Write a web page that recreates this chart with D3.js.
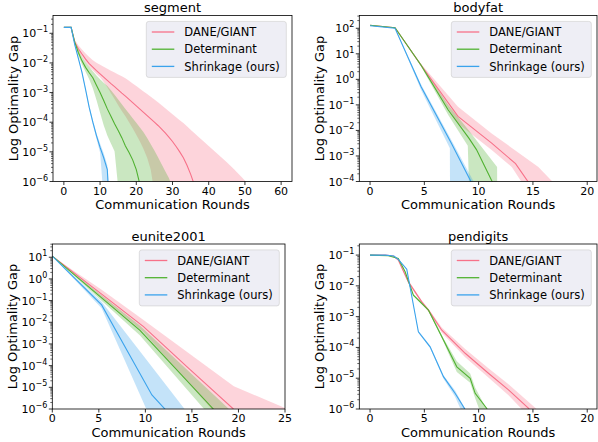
<!DOCTYPE html>
<html lang="en">
<head>
<meta charset="utf-8">
<title>Log Optimality Gap</title>
<script src="https://d3js.org/d3.v7.min.js"></script>
<style>
  body { margin: 0; background: #fff; }
  svg text { font-family: "DejaVu Sans", sans-serif; fill: #000; }
</style>
</head>
<body>
<svg width="598" height="442"></svg>
<script>

// rows are [communication round, log10 of the optimality gap]
const seriesNames = ["DANE/GIANT", "Determinant", "Shrinkage (ours)"];
const seriesColors = ["#f77189", "#50b131", "#3ba3ec"];

// segment
const segDane = [[0,-0.8],[1,-0.8],[2,-0.8],[3,-1.3],[4,-1.52],[5,-1.7],[6,-1.87],[7,-2.02],[8,-2.14],[9,-2.26],[10,-2.37],[11,-2.48],[12,-2.59],[13,-2.7],[14,-2.8],[15,-2.91],[16,-3.02],[17,-3.12],[18,-3.23],[19,-3.34],[20,-3.45],[21,-3.56],[22,-3.67],[23,-3.78],[24,-3.89],[25,-4.0],[26,-4.11],[27,-4.23],[28,-4.36],[29,-4.5],[30,-4.65],[31,-4.82],[32,-5.0],[33,-5.2],[34,-5.45],[35,-5.75],[36,-6.1]];
const segDaneLo = [[0,-0.8],[2,-0.8],[3,-1.32],[4,-1.6],[5,-1.8],[6,-1.98],[7,-2.13],[8,-2.25],[9,-2.37],[10,-2.48],[11,-2.64],[12,-2.82],[13,-3.02],[14,-3.22],[15,-3.43],[16,-3.62],[17,-3.8],[18,-4.0],[19,-4.2],[20,-4.42],[21,-4.65],[22,-4.9],[23,-5.2],[24,-5.6],[25,-6.4]];
const segDaneHi = [[0,-0.8],[2,-0.8],[3,-1.22],[4,-1.4],[5,-1.55],[6,-1.68],[7,-1.8],[8,-1.91],[9,-1.99],[10,-2.06],[11,-2.13],[12,-2.2],[13,-2.26],[14,-2.32],[15,-2.39],[16,-2.45],[17,-2.52],[18,-2.6],[19,-2.69],[20,-2.78],[21,-2.87],[22,-2.96],[23,-3.05],[24,-3.14],[25,-3.23],[26,-3.33],[27,-3.43],[28,-3.53],[29,-3.63],[30,-3.73],[31,-3.83],[32,-3.93],[33,-4.03],[34,-4.14],[35,-4.25],[36,-4.36],[37,-4.47],[38,-4.58],[39,-4.69],[40,-4.8],[41,-4.91],[42,-5.02],[43,-5.13],[44,-5.24],[45,-5.35],[46,-5.47],[47,-5.59],[48,-5.71],[49,-5.84],[50,-5.97],[51,-6.3]];
const segDet = [[0,-0.8],[1,-0.8],[2,-0.8],[3,-1.3],[4,-1.65],[5,-1.93],[6,-2.15],[7,-2.33],[8,-2.5],[9,-2.75],[10,-3.0],[11,-3.27],[12,-3.55],[13,-3.8],[14,-4.05],[15,-4.28],[16,-4.52],[17,-4.8],[18,-5.02],[19,-5.27],[20,-5.6],[21,-6.1]];
const segDetLo = [[0,-0.8],[2,-0.8],[3,-1.35],[4,-1.75],[5,-2.05],[6,-2.3],[7,-2.55],[8,-2.85],[9,-3.25],[10,-3.68],[11,-4.1],[12,-4.45],[13,-4.72],[14,-4.98],[15,-6.2]];
const segDetHi = [[0,-0.8],[2,-0.8],[3,-1.25],[4,-1.55],[5,-1.8],[6,-1.98],[7,-2.13],[8,-2.28],[9,-2.42],[10,-2.55],[11,-2.67],[12,-2.78],[13,-2.92],[14,-3.07],[15,-3.23],[16,-3.39],[17,-3.55],[18,-3.71],[19,-3.87],[20,-4.02],[21,-4.18],[22,-4.34],[23,-4.53],[24,-4.74],[25,-4.95],[26,-5.18],[27,-5.42],[28,-5.65],[29,-5.88],[30,-6.2]];
const segShr = [[0,-0.8],[1,-0.8],[2,-0.8],[3,-1.38],[4,-1.85],[5,-2.32],[6,-2.9],[7,-3.5],[8,-4.0],[9,-4.45],[10,-4.85],[11,-5.2],[12,-5.6],[13,-8]];
const segShrLo = [[0,-0.8],[2,-0.8],[3,-1.4],[4,-1.88],[5,-2.36],[6,-2.95],[7,-3.56],[8,-4.08],[9,-4.56],[10,-5.02],[11,-6.6]];
const segShrHi = [[0,-0.8],[2,-0.8],[3,-1.36],[4,-1.82],[5,-2.28],[6,-2.85],[7,-3.44],[8,-3.93],[9,-4.36],[10,-4.72],[11,-5.05],[12,-5.45],[13,-7]];

// bodyfat
const bfDane = [[0,2.12],[2.3,2.02],[4.7,0.55],[8.1,-1.45],[11.2,-2.5],[13.4,-3.3],[14.7,-4.1]];
const bfDaneLo = [[0,2.12],[2.3,2.02],[4.7,0.5],[8.1,-1.73],[11.2,-2.77],[13.05,-3.43],[14.0,-4.05]];
const bfDaneHi = [[0,2.12],[2.3,2.02],[4.7,0.6],[8.1,-1.07],[11.2,-2.12],[15.5,-3.43],[16.9,-4.05]];
const bfDet = [[0,2.12],[2.3,2.02],[4.7,0.55],[7.2,-1.2],[9.1,-2.3],[9.8,-2.75],[11.3,-4.05]];
const bfDetLo = [[0,2.12],[2.3,2.02],[4.7,0.5],[7.2,-1.4],[9.0,-2.6],[9.25,-6]];
const bfDetHi = [[0,2.12],[2.3,2.02],[4.7,0.6],[7.2,-1.0],[9.1,-2.0],[11.7,-3.43],[11.72,-6]];
const bfShr = [[0,2.1],[2.3,2.0],[4.7,-0.29],[7.5,-2.51],[9.35,-4.05]];
const bfShrLo = [[0,2.1],[2.3,2.0],[4.7,-0.42],[7.35,-2.7],[7.38,-6]];
const bfShrHi = [[0,2.1],[2.3,2.0],[4.7,-0.2],[7.5,-2.38],[9.6,-4.05]];

// eunite2001
const euDane = [[0,1.05],[5.3,-0.7],[9.8,-2.2],[14.6,-4.1],[19.45,-6.0],[20,-6.2]];
const euDaneLo = [[0,1.05],[5.3,-0.85],[9.8,-2.45],[17.2,-6.05]];
const euDaneHi = [[0,1.05],[5.3,-0.5],[9.8,-1.9],[19.5,-4.95],[25.5,-6.05]];
const euDet = [[0,1.05],[9.42,-2.37],[17.3,-6.0],[17.5,-6.1]];
const euDetLo = [[0,1.05],[9.4,-2.6],[16.4,-6.05]];
const euDetHi = [[0,1.05],[9.4,-2.15],[19.1,-6.05]];
const euShr = [[0,1.05],[5.3,-1.2],[10.7,-5.35],[12.2,-6.05]];
const euShrLo = [[0,1.05],[5.3,-1.35],[10.15,-6.05]];
const euShrHi = [[0,1.05],[5.3,-1.05],[14.3,-6.05]];

// pendigits
const pdDane = [[0,-1.0],[1.4,-1.0],[2.15,-1.03],[2.6,-1.16],[3.53,-1.87],[4.76,-2.52],[5.38,-2.79],[6.61,-3.44],[8.76,-4.19],[10.9,-4.84],[12.75,-5.38],[14.6,-5.98],[14.8,-6.1]];
const pdDaneLo = [[0,-1.0],[1.4,-1.0],[2.15,-1.03],[2.6,-1.18],[3.53,-1.92],[4.76,-2.57],[5.38,-2.84],[6.61,-3.52],[8.76,-4.32],[10.9,-4.98],[12.75,-5.55],[14.1,-6.05]];
const pdDaneHi = [[0,-1.0],[1.4,-1.0],[2.15,-1.03],[2.6,-1.14],[3.53,-1.82],[4.76,-2.47],[5.38,-2.74],[6.61,-3.35],[8.76,-4.05],[10.9,-4.68],[12.75,-5.2],[15.5,-6.05]];
const pdDet = [[0,-1.0],[1.69,-1.02],[2.6,-1.11],[3.23,-1.54],[3.99,-2.3],[5.38,-2.79],[6.76,-3.76],[7.99,-4.63],[9.22,-5.0],[9.68,-5.49],[10.75,-5.98],[10.85,-6.1]];
const pdDetLo = [[0,-1.0],[1.69,-1.02],[2.6,-1.12],[3.23,-1.56],[3.99,-2.33],[5.38,-2.82],[6.76,-3.82],[7.99,-4.8],[9.22,-5.15],[9.68,-5.65],[10.1,-6.05]];
const pdDetHi = [[0,-1.0],[1.69,-1.02],[2.6,-1.1],[3.23,-1.52],[3.99,-2.27],[5.38,-2.76],[6.76,-3.7],[7.99,-4.45],[9.22,-4.85],[9.68,-5.3],[10.8,-6.05]];
const pdShr = [[0,-1.0],[1.4,-1.0],[2.2,-1.03],[2.6,-1.14],[3.38,-1.46],[4.45,-3.49],[5.53,-3.98],[6.76,-4.95],[7.83,-5.49],[8.7,-5.98],[8.8,-6.1]];
const pdShrLo = [[0,-1.0],[1.4,-1.0],[2.2,-1.03],[2.6,-1.15],[3.38,-1.48],[4.45,-3.52],[5.53,-4.02],[6.76,-5.02],[7.83,-5.6],[8.4,-6.05]];
const pdShrHi = [[0,-1.0],[1.4,-1.0],[2.2,-1.03],[2.6,-1.13],[3.38,-1.44],[4.45,-3.46],[5.53,-3.94],[6.76,-4.9],[7.83,-5.4],[8.85,-6.05]];

const panels = [
  {title: "segment", box: {left: 53, right: 292, top: 15.5, bottom: 181.5},
   xDomain: [-3, 63], xTicks: [0, 10, 20, 30, 40, 50, 60], yRange: [-6, -0.4],
   series: [[segDane, segDaneLo, segDaneHi], [segDet, segDetLo, segDetHi], [segShr, segShrLo, segShrHi]]},
  {title: "bodyfat", box: {left: 359.3, right: 597, top: 15.5, bottom: 181.5},
   xDomain: [-0.99, 20.9], xTicks: [0, 5, 10, 15, 20], yRange: [-4, 2.5],
   series: [[bfDane, bfDaneLo, bfDaneHi], [bfDet, bfDetLo, bfDetHi], [bfShr, bfShrLo, bfShrHi]]},
  {title: "eunite2001", box: {left: 52.3, right: 285, top: 244, bottom: 409},
   xDomain: [0, 25], xTicks: [0, 5, 10, 15, 20, 25], yRange: [-6, 1.61],
   series: [[euDane, euDaneLo, euDaneHi], [euDet, euDetLo, euDetHi], [euShr, euShrLo, euShrHi]]},
  {title: "pendigits", box: {left: 359.3, right: 597, top: 244, bottom: 409},
   xDomain: [-0.99, 20.9], xTicks: [0, 5, 10, 15, 20], yRange: [-6, -0.64],
   series: [[pdDane, pdDaneLo, pdDaneHi], [pdDet, pdDetLo, pdDetHi], [pdShr, pdShrLo, pdShrHi]]}
];

const svg = d3.select("svg");
const defs = svg.append("defs");

function supLabel(sel, k) {
  sel.append("tspan").text("10");
  sel.append("tspan")
      .attr("font-size", 8)
      .attr("dy", -5)
      .text(k < 0 ? "\u2212" + (-k) : String(k));
}

panels.forEach((p, pi) => {
  const b = p.box;
  const x = d3.scaleLinear().domain(p.xDomain).range([b.left, b.right]);
  const y = d3.scaleLog()
      .domain([Math.pow(10, p.yRange[0]), Math.pow(10, p.yRange[1])])
      .range([b.bottom, b.top]);
  const pt = d => [x(d[0]), y(Math.pow(10, d[1]))];
  const line = d3.line();

  const g = svg.append("g");

  defs.append("clipPath").attr("id", "clip" + pi)
    .append("rect")
      .attr("x", b.left).attr("y", b.top)
      .attr("width", b.right - b.left).attr("height", b.bottom - b.top);

  const plot = g.append("g").attr("clip-path", `url(#clip${pi})`);

  // shaded bands: upper edge forward, lower edge back
  p.series.forEach((s, i) => {
    const poly = s[2].map(pt).concat(s[1].slice().reverse().map(pt));
    plot.append("path")
        .attr("d", line(poly) + "Z")
        .attr("fill", seriesColors[i])
        .attr("fill-opacity", 0.3)
        .attr("stroke", "none");
  });

  p.series.forEach((s, i) => {
    plot.append("path")
        .attr("d", line(s[0].map(pt)))
        .attr("fill", "none")
        .attr("stroke", seriesColors[i])
        .attr("stroke-width", 1.1);
  });

  // frame
  g.append("rect")
      .attr("x", b.left).attr("y", b.top)
      .attr("width", b.right - b.left).attr("height", b.bottom - b.top)
      .attr("fill", "none")
      .attr("stroke", "#000")
      .attr("stroke-width", 0.8);

  // x ticks
  p.xTicks.forEach(t => {
    g.append("line")
        .attr("x1", x(t)).attr("x2", x(t))
        .attr("y1", b.bottom).attr("y2", b.bottom + 3.5)
        .attr("stroke", "#000").attr("stroke-width", 0.8);
    g.append("text")
        .attr("x", x(t)).attr("y", b.bottom + 13.3)
        .attr("text-anchor", "middle")
        .attr("font-size", 11)
        .text(t);
  });

  // y ticks, major at decades and minor in between
  const lo = Math.floor(p.yRange[0]), hi = Math.floor(p.yRange[1]);
  for (let k = lo; k <= hi; k++) {
    if (k >= p.yRange[0]) {
      const yy = y(Math.pow(10, k));
      g.append("line")
          .attr("x1", b.left - 3.5).attr("x2", b.left)
          .attr("y1", yy).attr("y2", yy)
          .attr("stroke", "#000").attr("stroke-width", 0.8);
      g.append("text")
          .attr("x", b.left - 5).attr("y", yy + 4)
          .attr("text-anchor", "end")
          .attr("font-size", 11)
          .call(supLabel, k);
    }
    for (let m = 2; m <= 9; m++) {
      const v = m * Math.pow(10, k);
      const lv = Math.log10(v);
      if (lv < p.yRange[0] || lv > p.yRange[1]) continue;
      g.append("line")
          .attr("x1", b.left - 2).attr("x2", b.left)
          .attr("y1", y(v)).attr("y2", y(v))
          .attr("stroke", "#000").attr("stroke-width", 0.6);
    }
  }

  const cx = (b.left + b.right) / 2;
  g.append("text")
      .attr("x", cx).attr("y", b.top - 3.5)
      .attr("text-anchor", "middle")
      .attr("font-size", 13)
      .text(p.title);

  g.append("text")
      .attr("x", cx).attr("y", b.bottom + 27.7)
      .attr("text-anchor", "middle")
      .attr("font-size", 13)
      .text("Communication Rounds");

  g.append("text")
      .attr("transform", `translate(${b.left - 35.5},${(b.top + b.bottom) / 2}) rotate(-90)`)
      .attr("text-anchor", "middle")
      .attr("font-size", 13)
      .text("Log Optimality Gap");

  // legend
  const lw = 140, lh = 56;
  const lx = b.right - 5.7 - lw, ly = b.top + 5.9;
  const leg = g.append("g").attr("transform", `translate(${lx},${ly})`);
  leg.append("rect")
      .attr("width", lw).attr("height", lh)
      .attr("rx", 2.5)
      .attr("fill", "#eaeaf2").attr("fill-opacity", 0.8)
      .attr("stroke", "#cccccc").attr("stroke-opacity", 0.8)
      .attr("stroke-width", 0.8);
  seriesNames.forEach((name, i) => {
    const ry = 10.6 + i * 17.2;
    leg.append("line")
        .attr("x1", 5.5).attr("x2", 28)
        .attr("y1", ry).attr("y2", ry)
        .attr("stroke", seriesColors[i])
        .attr("stroke-width", 1.3);
    leg.append("text")
        .attr("x", 38).attr("y", ry + 4.2)
        .attr("font-size", 11.5)
        .text(name);
  });
});

</script>
</body>
</html>
